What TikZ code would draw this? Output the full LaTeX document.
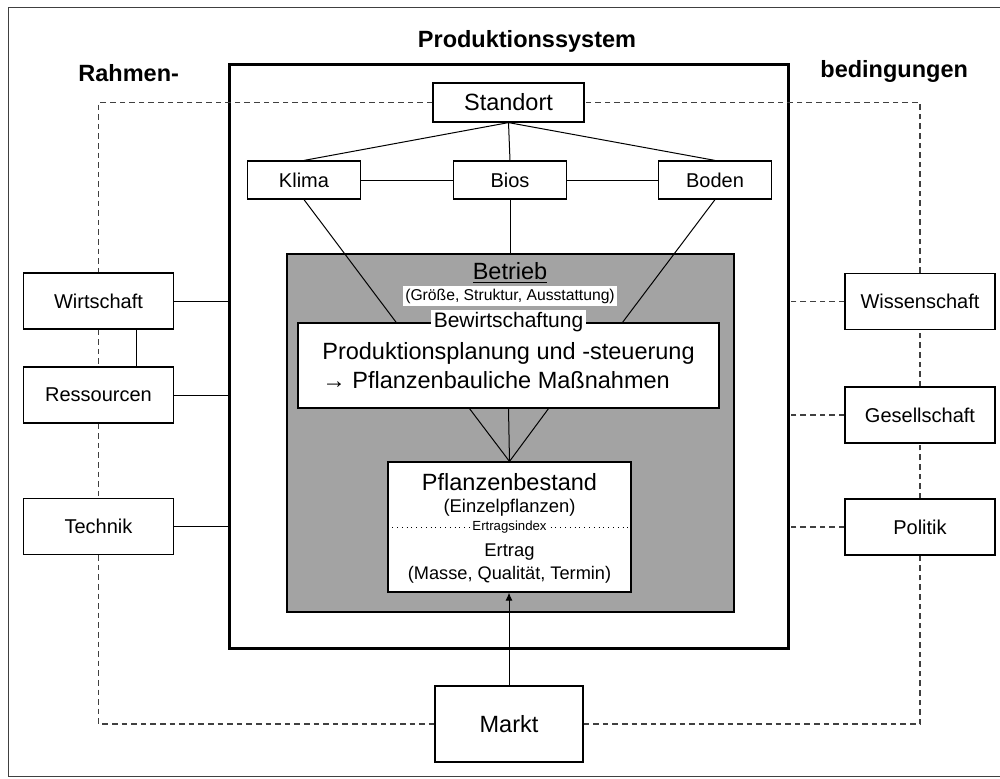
\documentclass[tikz,border=0pt]{standalone}
\usepackage{fontspec}
\setmainfont{Liberation Sans}
\usetikzlibrary{arrows.meta, positioning, calc}

\begin{document}
\begin{tikzpicture}[
  x=0.5pt, y=-0.5pt,
  box/.style={draw, fill=white, line width=0.6pt, inner sep=0pt, align=center, font=\fontsize{10}{12}\selectfont},
  side/.style={box, minimum width=75pt, minimum height=28pt},
  big/.style={font=\fontsize{11.75}{14.5}\selectfont},
  heading/.style={inner sep=0pt, font=\bfseries\fontsize{11.75}{14}\selectfont},
  tag/.style={fill=white, inner sep=1.2pt},
  link/.style={line width=0.5pt},
  frame/.style={line width=0.6pt, draw=black!75, dash pattern=on 2.8pt off 2pt},
  arrow/.style={-{Latex[length=4pt, width=3.5pt]}, line width=0.5pt}
]
\useasboundingbox (0,0) rectangle (1000,778);
\draw[line width=0.5pt, black!75] (8,7) rectangle (1003,776);

\node[heading] (titel) at (527,41) {Produktionssystem};
\node[heading, anchor=west] (rahmen) at (78,73) {Rahmen-};
\node[heading, anchor=west] (bedingungen) at (820,71) {bedingungen};

\node[draw, line width=1.5pt, minimum width=279.5pt, minimum height=292pt] (prod) at (508.5,356) {};
\node[draw, line width=1pt, fill=black!36, minimum width=223.5pt, minimum height=179pt] (betrieb) at (510.5,433) {};

\node[box, big, minimum width=75.5pt, minimum height=19.5pt] (standort) at (508.5,102.5) {Standort};
\node[box, minimum width=56.5pt, minimum height=19pt] (klima) at (304,180) {Klima};
\node[box, minimum width=56.5pt, minimum height=19pt] (bios) at (510,180) {Bios};
\node[box, minimum width=56.5pt, minimum height=19pt] (boden) at (715,180) {Boden};

\node[box, big, align=left, minimum width=210.5pt, minimum height=42.5pt] (bewirt) at (508.5,365.5) {Produktionsplanung und -steuerung\\→ Pflanzenbauliche Maßnahmen};
\node[box, minimum width=121.5pt, minimum height=65pt] (bestand) at (509.5,527) {};
\node[box, big, minimum width=74pt, minimum height=38pt] (markt) at (509,724) {Markt};

\node[side] (wirtschaft) at (98.5,301) {Wirtschaft};
\node[side] (ressourcen) at (98.5,395) {Ressourcen};
\node[side] (technik) at (98.5,526.5) {Technik};
\node[side] (wissenschaft) at (920,301.5) {Wissenschaft};
\node[side] (gesellschaft) at (920,415) {Gesellschaft};
\node[side] (politik) at (920,527) {Politik};

\draw[link] (standort.south) -- (klima.north);
\draw[link] (standort.south) -- (bios.north);
\draw[link] (standort.south) -- (boden.north);
\draw[link] (klima) -- (bios);
\draw[link] (bios) -- (boden);
\draw[link] (bios.south) -- (bios.south |- betrieb.north);
\draw[link] (klima.south) -- ($(bewirt.north west)!0.234!(bewirt.north east)$);
\draw[link] (boden.south) -- ($(bewirt.north west)!0.77!(bewirt.north east)$);
\draw[link] ($(bewirt.south)+(-39,0)$) -- (bestand.north);
\draw[link] (bewirt.south) -- (bestand.north);
\draw[link] ($(bewirt.south)+(40,0)$) -- (bestand.north);
\draw[arrow] (markt.north) -- (markt.north |- bestand.south);

\draw[link] (wirtschaft.east) -- (wirtschaft.east -| prod.west);
\draw[link] (ressourcen.east) -- (ressourcen.east -| prod.west);
\draw[link] (technik.east) -- (technik.east -| prod.west);
\draw[link] ($(wirtschaft.south)+(37.5,0)$) -- ($(ressourcen.north)+(37.5,0)$);
\draw[frame] (wissenschaft.west) -- (wissenschaft.west -| prod.east);
\draw[frame] (gesellschaft.west) -- (gesellschaft.west -| prod.east);
\draw[frame] (politik.west) -- (politik.west -| prod.east);

\draw[frame] (standort) -| (wirtschaft);
\draw[frame] (wirtschaft) -- (ressourcen);
\draw[frame] (ressourcen) -- (technik);
\draw[frame] (technik) |- (markt);
\draw[frame] (markt) -| (politik);
\draw[frame] (politik) -- (gesellschaft);
\draw[frame] (gesellschaft) -- (wissenschaft);
\draw[frame] (wissenschaft) |- (standort);

\node[big] (betriebtxt) at (510,273) {\underline{Betrieb}};
\node[tag, font=\fontsize{7.85}{9}\selectfont] (groesse) at (510,296) {(Größe, Struktur, Ausstattung)};
\node[tag, font=\fontsize{10.5}{12}\selectfont] (bewirttxt) at (bewirt.north) {Bewirtschaftung};

\draw[dotted, line width=0.4pt] (bestand.west) -- (bestand.east);
\node[big] (bestandtxt) at (509.5,482) {Pflanzenbestand};
\node[font=\fontsize{9.2}{11}\selectfont] (einzeltxt) at (509.5,508) {(Einzelpflanzen)};
\node[tag, font=\fontsize{6.6}{8}\selectfont] (index) at (509.5,527) {Ertragsindex};
\node[font=\fontsize{9.2}{11}\selectfont] (ertragtxt) at (509.5,552) {Ertrag};
\node[font=\fontsize{9.1}{11}\selectfont] (massetxt) at (509.5,575) {(Masse, Qualität, Termin)};
\end{tikzpicture}
\end{document}
